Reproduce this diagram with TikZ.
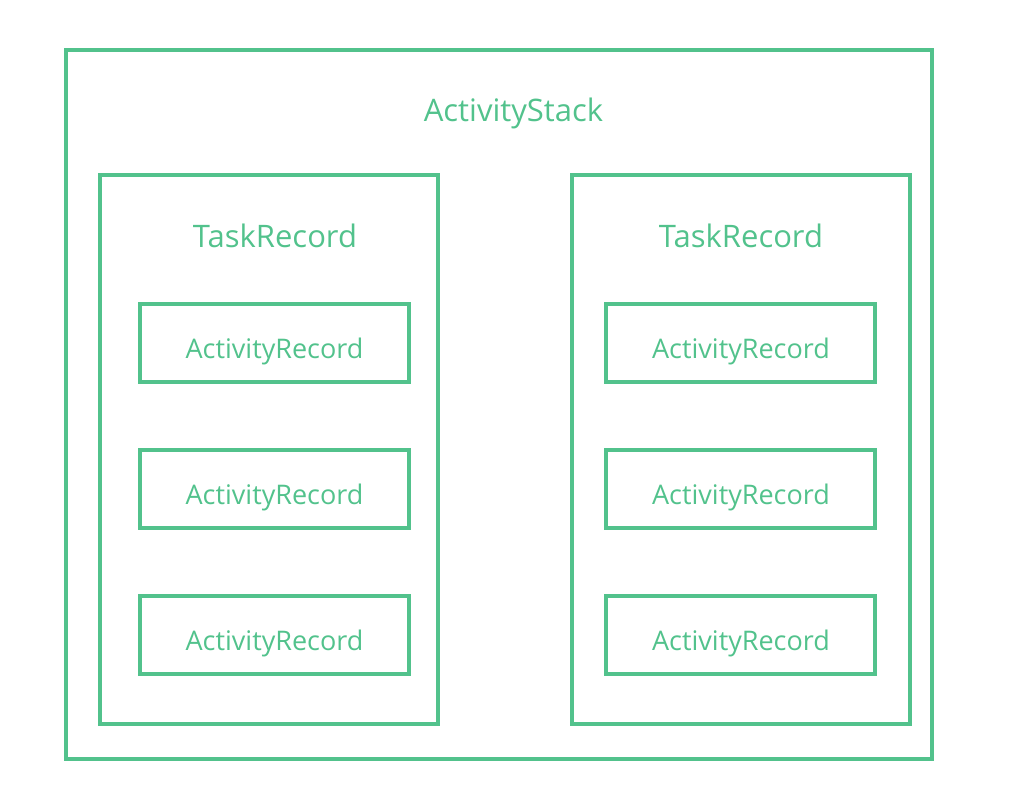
\documentclass[tikz,border=0pt]{standalone}
\usepackage{fontspec}
\setmainfont{Open Sans}
\definecolor{grn}{HTML}{52C28C}
\begin{document}
\begin{tikzpicture}[x=1pt,y=-1pt,
  box/.style={draw=grn,line width=3.5pt},
  lbl/.style={text=grn,font=\fontsize{31}{36}\selectfont,inner sep=0pt,anchor=base},
  sublbl/.style={text=grn,font=\fontsize{27}{32}\selectfont,inner sep=0pt,anchor=base}]
\useasboundingbox (0,0) rectangle (1016,810);
\draw[box] (66,50) rectangle (932,759);
\node[lbl] (stack) at (513.5,122) {ActivityStack};
\draw[box] (100,175) rectangle (438,724);
\draw[box] (572,175) rectangle (910,724);
\node[lbl] (t1) at (275,247.5) {TaskRecord};
\node[lbl] (t2) at (741,247.5) {TaskRecord};
\foreach \y [count=\i] in {343,489,635}{
  \node[box,minimum width=269pt,minimum height=78pt,inner sep=0pt] (a\i) at (274.5,\y) {};
  \node[sublbl] (la\i) at (274.5,\y+15) {ActivityRecord};
  \node[box,minimum width=269pt,minimum height=78pt,inner sep=0pt] (b\i) at (740.5,\y) {};
  \node[sublbl] (lb\i) at (741,\y+15) {ActivityRecord};
}
\end{tikzpicture}
\end{document}
